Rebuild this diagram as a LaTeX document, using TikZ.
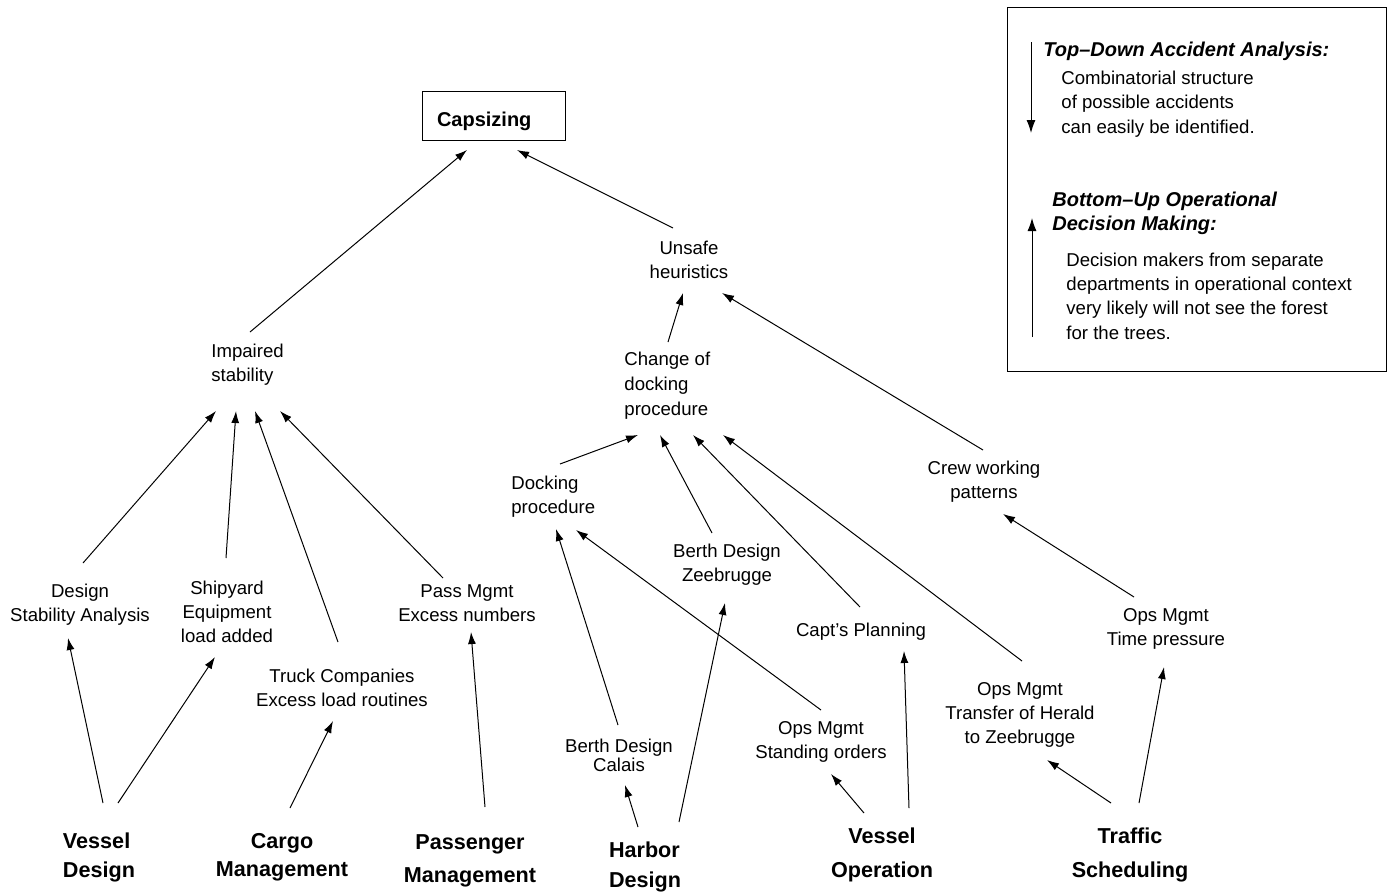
\documentclass[tikz,border=0pt]{standalone}
\usepackage{fontspec}
\setmainfont{Liberation Sans}
\usetikzlibrary{arrows.meta,calc}

\begin{document}
\begin{tikzpicture}[x=0.5pt,y=-0.5pt,
  lbl/.style={inner sep=0pt, align=center, font=\fontsize{9.3}{12}\selectfont},
  lbll/.style={lbl, align=left, anchor=west},
  dept/.style={inner sep=0pt, align=center, font=\fontsize{10.8}{14.5}\selectfont\bfseries},
  head/.style={inner sep=0pt, align=left, anchor=west, font=\fontsize{10}{12}\selectfont\bfseries\itshape},
  arr/.style={-{Latex[length=6pt,width=4pt]}, line width=0.5pt},
  bigarr/.style={-{Latex[length=6.5pt,width=4.5pt]}, line width=0.5pt},
  ]
\fill[white] (0,0) rectangle (1392,891);
\useasboundingbox (0,0) rectangle (1392,891);

% top event
\node[draw, line width=0.5pt, minimum width=71.5pt, minimum height=24.5pt,
      text width=56.5pt, text height=10.7pt, text depth=0pt,
      inner xsep=7.5pt, inner ysep=0pt, align=left,
      font=\fontsize{10}{12}\selectfont\bfseries] (cap) at (493.5,115.5) {Capsizing};

% intermediate causes
\node[lbll] (imp) at (211,365) {Impaired\\stability};
\node[lbl] (unsafe) at (689,260) {Unsafe\\heuristics};
\node[lbll, font=\fontsize{9.3}{12.5}\selectfont] (change) at (624,386) {Change of\\docking\\procedure};
\node[lbl] (crew) at (984,482) {Crew working\\patterns};
\node[lbll] (dock) at (511,497) {Docking\\procedure};
\node[lbl] (bz) at (727,565) {Berth Design\\Zeebrugge};
\node[lbl] (capt) at (861,632) {Capt's Planning};
\node[lbl, font=\fontsize{9.3}{9.5}\selectfont] (bc) at (619,755) {Berth Design\\Calais};
\node[lbl] (osd) at (821,742) {Ops Mgmt\\Standing orders};
\node[lbl] (oth) at (1020,715) {Ops Mgmt\\Transfer of Herald\\to Zeebrugge};
\node[lbl] (otp) at (1166,629) {Ops Mgmt\\Time pressure};
\node[lbl] (dsa) at (80,605) {Design\\Stability Analysis};
\node[lbl] (ship) at (227,612) {Shipyard\\Equipment\\load added};
\node[lbl] (truck) at (342,688) {Truck Companies\\Excess load routines};
\node[lbl] (pm) at (467,603) {Pass Mgmt\\Excess numbers};

% departments
\node[dept, align=left] (vd) at (99,857) {Vessel\\Design};
\node[dept, font=\fontsize{10.8}{14}\selectfont\bfseries] (cm) at (282,857) {Cargo\\Management};
\node[dept, font=\fontsize{10.8}{16.5}\selectfont\bfseries] (pgm) at (470,861) {Passenger\\Management};
\node[dept, align=left, font=\fontsize{10.8}{15}\selectfont\bfseries] (hd) at (645,867) {Harbor\\Design};
\node[dept, font=\fontsize{10.8}{17}\selectfont\bfseries] (vo) at (882,855) {Vessel\\Operation};
\node[dept, font=\fontsize{10.8}{17}\selectfont\bfseries] (ts) at (1130,855) {Traffic\\Scheduling};

% causal links
\draw[arr] ($(imp.west)+(39,-33)$) -- ($(cap)+(-26.5,34.5)$);
\draw[arr] ($(unsafe)+(-16,-32)$) -- ($(cap)+(23.5,34.5)$);
\draw[arr] ($(change.west)+(44,-44)$) -- ($(unsafe)+(-6,33)$);
\draw[arr] ($(crew)+(-1,-32)$) -- ($(unsafe)+(33,33)$);
\draw[arr] ($(dock.west)+(49,-33)$) -- ($(change.west)+(14,49)$);
\draw[arr] ($(bz)+(-15,-32)$) -- ($(change.west)+(36,49)$);
\draw[arr] ($(capt)+(-1,-25)$) -- ($(change.west)+(69,49)$);
\draw[arr] ($(oth)+(2,-54)$) -- ($(change.west)+(99,49)$);
\draw[arr] ($(otp)+(-32,-32)$) -- ($(crew)+(19,32)$);
\draw[arr] ($(bc)+(-1,-30)$) -- ($(dock.west)+(45,32)$);
\draw[arr] ($(osd)+(0,-32)$) -- ($(dock.west)+(65,33)$);
\draw[arr] ($(hd)+(-7,-40)$) -- ($(bc)+(6,30)$);
\draw[arr] ($(hd)+(34,-45)$) -- ($(bz)+(-2,38)$);
\draw[arr] ($(vo)+(-18,-42)$) -- ($(osd)+(10,32)$);
\draw[arr] ($(vo)+(27,-47)$) -- ($(capt)+(43,19)$);
\draw[arr] ($(ts)+(-19,-52)$) -- ($(oth)+(27,45)$);
\draw[arr] ($(ts)+(9,-52)$) -- ($(otp)+(-2,38)$);
\draw[arr] ($(dsa)+(3,-42)$) -- ($(imp.west)+(5,46)$);
\draw[arr] ($(ship)+(-1,-54)$) -- ($(imp.west)+(25,46)$);
\draw[arr] ($(truck)+(-4,-46)$) -- ($(imp.west)+(44,46)$);
\draw[arr] ($(pm)+(-24,-25)$) -- ($(imp.west)+(69,46)$);
\draw[arr] ($(vd)+(4,-54)$) -- ($(dsa)+(-12,33)$);
\draw[arr] ($(vd)+(19,-54)$) -- ($(ship)+(-12,45)$);
\draw[arr] ($(cm)+(8,-49)$) -- ($(truck)+(-9,33)$);
\draw[arr] ($(pgm)+(15,-54)$) -- ($(pm)+(4,29)$);

% legend
\node[draw, line width=0.5pt, minimum width=189.5pt, minimum height=182pt, inner sep=0pt]
  (legendbox) at (1196.5,189) {};
\coordinate (dnA) at (1031,42);
\coordinate (dnB) at (1031,133);
\coordinate (upA) at (1032,337);
\coordinate (upB) at (1032,218);
\draw[bigarr] (dnA) -- (dnB);
\draw[bigarr] (upA) -- (upB);
\node[head] (lg1) at (1043,51) {Top–Down Accident Analysis:};
\node[lbll, font=\fontsize{9.3}{12.25}\selectfont] (lg2) at (1061,104) {Combinatorial structure\\of possible accidents\\can easily be identified.};
\node[head] (lg3) at (1052,213) {Bottom–Up Operational\\Decision Making:};
\node[lbll, font=\fontsize{9.3}{12.2}\selectfont] (lg4) at (1066,296) {Decision makers from separate\\departments in operational context\\very likely will not see the forest\\for the trees.};
\end{tikzpicture}
\end{document}
